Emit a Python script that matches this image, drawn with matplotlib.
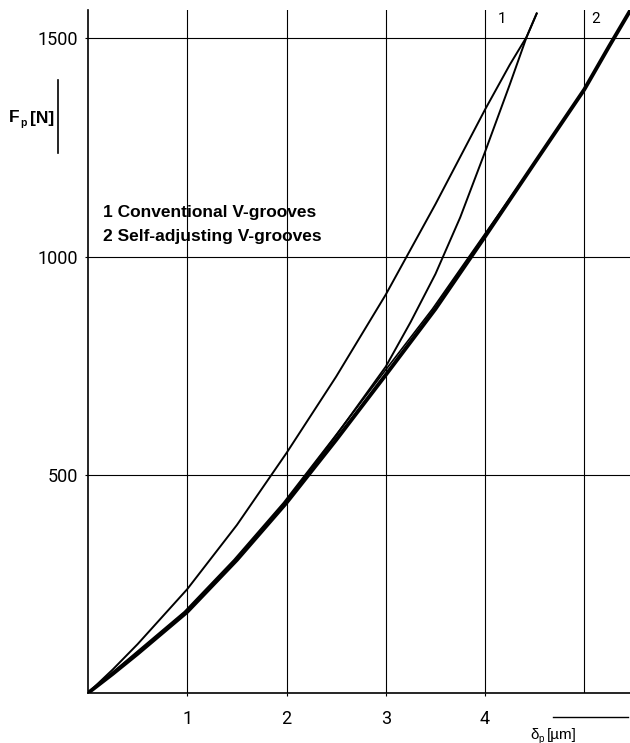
import numpy as np
import matplotlib
matplotlib.use("Agg")
import matplotlib.pyplot as plt
from matplotlib.lines import Line2D

# curve 1 (conventional V-grooves), two branches of the loop
c1_up_x = [0, 0.25, 0.5, 1.0, 1.5, 2.0, 2.5, 3.0, 3.5, 4.0, 4.25, 4.42, 4.52]
c1_up_F = [0, 54, 112, 238, 385, 550, 725, 913, 1120, 1337, 1440, 1504, 1557]
c1_lo_x = [0, 0.25, 0.5, 1.0, 1.5, 2.0, 2.5, 3.0, 3.25, 3.5, 3.75, 4.0, 4.25, 4.42, 4.52]
c1_lo_F = [0, 44, 90, 190, 308, 440, 590, 748, 850, 960, 1090, 1240, 1395, 1504, 1557]

# curve 2 (self-adjusting V-grooves), narrow loop
c2_x = [0, 0.25, 0.5, 1.0, 1.5, 2.0, 2.5, 3.0, 3.5, 4.0, 4.5, 5.0, 5.25, 5.46]
c2_F = [0, 44, 90, 186, 305, 436, 580, 729, 880, 1046, 1215, 1383, 1482, 1563]
c2b_x = [0, 0.23, 0.47, 0.97, 1.47, 1.97, 2.46, 2.96, 3.47, 3.98, 4.5, 5.0, 5.25, 5.46]
c2b_F = [0, 44, 90, 186, 305, 436, 580, 729, 880, 1046, 1215, 1383, 1482, 1563]

xticks = [1, 2, 3, 4]
xgrid = [1, 2, 3, 4, 5]
yticks = [500, 1000, 1500]

W, H = 630, 743
fig = plt.figure(figsize=(W / 100, H / 100), dpi=100)
ax = fig.add_axes([88 / W, 50 / H, 1 - 88 / W, 683 / H])

for xg in xgrid:
    ax.axvline(xg, color='black', lw=0.8, zorder=1)
for yg in yticks:
    ax.axhline(yg, color='black', lw=0.8, zorder=1)

ax.plot(c1_up_x, c1_up_F, color='black', lw=1.4, zorder=3)
ax.plot(c1_lo_x, c1_lo_F, color='black', lw=1.4, zorder=3)
ax.plot(c2b_x, c2b_F, color='black', lw=1.2, zorder=3)
ax.plot(c2_x, c2_F, color='black', lw=2.8, zorder=3)

ax.set_xlim(0, 5.46)
ax.set_ylim(0, 1565)
ax.set_xticks(xticks)
ax.set_yticks(yticks)
ax.spines['top'].set_visible(False)
ax.spines['right'].set_visible(False)
ax.spines['left'].set_linewidth(1.2)
ax.spines['bottom'].set_linewidth(1.2)
ax.tick_params(length=2, width=0.8, color='black')
ax.tick_params(axis='x', pad=10)
ax.tick_params(axis='y', pad=5)
for lab in ax.get_xticklabels() + ax.get_yticklabels():
    lab.set_fontfamily('Roboto')
    lab.set_fontweight('normal')
    lab.set_fontsize(13)
    lab.set_color('black')

# curve numbers
ax.text(4.13, 1545, '1', fontsize=11, family='Roboto', color='black', va='center')
ax.text(5.07, 1545, '2', fontsize=11, family='Roboto', color='black', va='center')

# legend text
bold = dict(family='Liberation Sans', weight='bold', fontsize=12.5)
fig.text(103 / W, 1 - 213 / H, '1 Conventional V-grooves', va='center', **bold)
fig.text(103 / W, 1 - 237 / H, '2 Self-adjusting V-grooves', va='center', **bold)

# y label with bar
fig.text(9 / W, 1 - 118 / H, 'F', va='center', **bold)
fig.text(20 / W, 1 - 123 / H, 'p', va='center', family='Liberation Sans', weight='bold', fontsize=7.5)
fig.text(30 / W, 1 - 118 / H, '[N]', va='center', **bold)
fig.add_artist(Line2D([58 / W, 58 / W], [1 - 80 / H, 1 - 153 / H], color='black', lw=1.2))

# x label with bar
reg = dict(family='Liberation Sans', fontsize=11)
fig.text(530 / W, 1 - 735 / H, 'δ', va='center', **reg)
fig.text(538 / W, 1 - 739 / H, 'p', va='center', family='Liberation Sans', fontsize=7)
fig.text(547 / W, 1 - 735 / H, '[µm]', va='center', **reg)
fig.add_artist(Line2D([553 / W, 628 / W], [1 - 717 / H, 1 - 717 / H], color='black', lw=1.0))

fig.savefig('out.png', dpi=100)
